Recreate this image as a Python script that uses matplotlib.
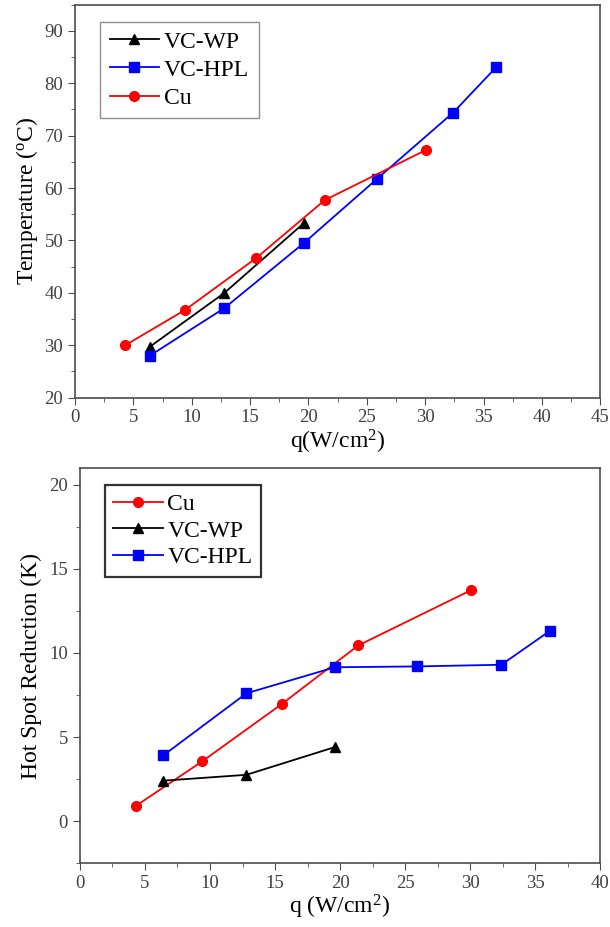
import matplotlib
matplotlib.use("Agg")
import matplotlib.pyplot as plt
from matplotlib.ticker import MultipleLocator

# top panel: temperature vs heat flux
wp_q = [6.4, 12.8, 19.6]
wp_T = [29.7, 40.0, 53.3]
hpl_q = [6.4, 12.8, 19.6, 25.9, 32.4, 36.1]
hpl_T = [28.0, 37.1, 49.5, 61.8, 74.4, 83.1]
cu_q = [4.3, 9.4, 15.5, 21.4, 30.1]
cu_T = [30.0, 36.7, 46.6, 57.7, 67.3]

# bottom panel: hot spot reduction
cu_dT = [0.9, 3.55, 6.95, 10.45, 13.75]
wp_dT = [2.4, 2.75, 4.4]
hpl_dT = [3.9, 7.6, 9.15, 9.2, 9.3, 11.3]

plt.rcParams["font.family"] = ["Liberation Serif", "DejaVu Serif"]
plt.rcParams["mathtext.fontset"] = "custom"
plt.rcParams["mathtext.rm"] = "Liberation Serif"
plt.rcParams["mathtext.it"] = "Liberation Serif:italic"

fig = plt.figure(figsize=(6.1, 9.27), dpi=100)
ax1 = fig.add_axes([0.123, 0.571, 0.861, 0.424])
ax2 = fig.add_axes([0.131, 0.069, 0.853, 0.426])

ms = 7
ax1.plot(wp_q, wp_T, "-^", color="black", ms=ms, lw=1.3, label="VC-WP")
ax1.plot(hpl_q, hpl_T, "-s", color="blue", ms=ms, lw=1.3, label="VC-HPL")
ax1.plot(cu_q, cu_T, "-o", color="red", ms=ms, lw=1.3, label="Cu")
ax1.set_xlim(0, 45)
ax1.set_ylim(20, 95)
ax1.xaxis.set_major_locator(MultipleLocator(5))
ax1.xaxis.set_minor_locator(MultipleLocator(2.5))
ax1.yaxis.set_major_locator(MultipleLocator(10))
ax1.yaxis.set_minor_locator(MultipleLocator(5))
ax1.set_xlabel("q(W/cm$^2$)", fontsize=17, labelpad=1)
ax1.set_ylabel("Temperature ($^{\\rm o}$C)", fontsize=17, labelpad=3)
leg1 = ax1.legend(loc="upper left", bbox_to_anchor=(0.048, 0.957), fontsize=17,
                  fancybox=False, edgecolor="0.45", handlelength=2.1,
                  borderpad=0.4, labelspacing=0.28, handletextpad=0.2,
                  borderaxespad=0)
leg1.get_frame().set_linewidth(1.0)

ax2.plot(cu_q, cu_dT, "-o", color="red", ms=ms, lw=1.3, label="Cu")
ax2.plot(wp_q, wp_dT, "-^", color="black", ms=ms, lw=1.3, label="VC-WP")
ax2.plot(hpl_q, hpl_dT, "-s", color="blue", ms=ms, lw=1.3, label="VC-HPL")
ax2.set_xlim(0, 40)
ax2.set_ylim(-2.5, 21)
ax2.xaxis.set_major_locator(MultipleLocator(5))
ax2.xaxis.set_minor_locator(MultipleLocator(2.5))
ax2.yaxis.set_major_locator(MultipleLocator(5))
ax2.yaxis.set_minor_locator(MultipleLocator(2.5))
ax2.set_xlabel("q (W/cm$^2$)", fontsize=17, labelpad=1)
ax2.set_ylabel("Hot Spot Reduction (K)", fontsize=17, labelpad=5)
leg2 = ax2.legend(loc="upper left", bbox_to_anchor=(0.048, 0.957), fontsize=17,
                  fancybox=False, edgecolor="black", handlelength=2.1,
                  borderpad=0.35, labelspacing=0.22, handletextpad=0.2,
                  borderaxespad=0)
leg2.get_frame().set_linewidth(1.6)

for ax in (ax1, ax2):
    ax.tick_params(which="both", direction="out", top=False, right=False,
                   labelsize=13.5, color="0.3", labelcolor="0.25")
    ax.tick_params(which="major", length=5)
    ax.tick_params(which="minor", length=3)
    for sp in ax.spines.values():
        sp.set_color("0.3")
        sp.set_linewidth(1.2)

fig.savefig("out.png", dpi=100)
